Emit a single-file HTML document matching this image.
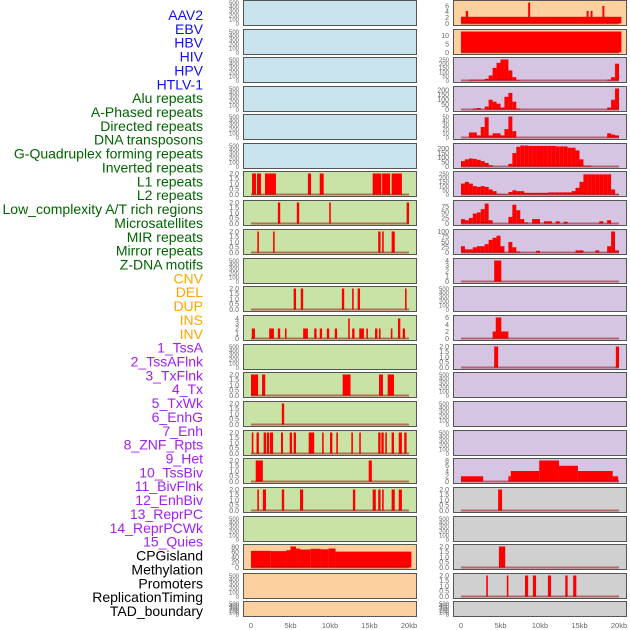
<!DOCTYPE html>
<html><head><meta charset="utf-8"><style>
html,body{margin:0;padding:0;background:#fff;}
svg{display:block;font-family:"Liberation Sans",sans-serif;}
</style></head><body>
<svg id="chart" width="630" height="630" viewBox="0 0 630 630"></svg>
<script>
const labels=["AAV2","EBV","HBV","HIV","HPV","HTLV-1","Alu repeats","A-Phased repeats","Directed repeats","DNA transposons","G-Quadruplex forming repeats","Inverted repeats","L1 repeats","L2 repeats","Low_complexity A/T rich regions","Microsatellites","MIR repeats","Mirror repeats","Z-DNA motifs","CNV","DEL","DUP","INS","INV","1_TssA","2_TssAFlnk","3_TxFlnk","4_Tx","5_TxWk","6_EnhG","7_Enh","8_ZNF_Rpts","9_Het","10_TssBiv","11_BivFlnk","12_EnhBiv","13_ReprPC","14_ReprPCWk","15_Quies","CPGisland","Methylation","Promoters","ReplicationTiming","TAD_boundary"];
const labelColors=["#1010ee","#006400","#ffa500","#a020f0","#000"];
const labelGroupSizes=[6,13,5,15,5];
const rowTops=[0,29,57,86,114,143,171,200,229,258,286,315,344,372,401,430,458,487,516,544,573,601];
const leftColors=["b","b","b","b","b","b","g","g","g","g","g","g","g","g","g","g","g","g","g","o","o","o"];
const rightColors=["o","o","p","p","p","p","p","p","p","p","p","p","p","p","p","p","p","y","y","y","y","y"];
const xTicks=[0,5,10,15,20];
const xTickLabels=["0","5kb","10kb","15kb","20kb"];
// left segments [startKb,endKb,value]
const leftL1=[[0.13,0.63,2],[0.76,1.27,2],[1.77,3.16,2],[7.2,7.6,2],[8.7,9.2,2],[15.4,16.5,2],[16.6,17.6,2],[17.8,19.1,2]];
const leftR7=[[3.4,3.7,2],[5.8,6.1,2],[9.9,10.1,2],[19.7,20,2]];
const leftR8=[[0.8,1.0,2],[2.8,3.0,2],[16.1,16.4,2],[16.6,16.8,2],[17.8,18.2,2]];
const leftR10=[[5.4,5.7,2],[6.3,6.6,2],[11.5,11.8,2],[12.8,13.0,2],[13.5,13.8,2],[19.5,19.7,2]];
const leftR11=[[0.1,0.5,2],[2.3,2.9,2],[3.4,3.7,2],[4.3,4.5,2],[6.6,7.2,2],[8.0,8.3,2],[8.7,9.0,2],[9.6,9.9,2],[10.6,10.9,2],[12.3,12.5,4],[12.8,13.1,2],[13.7,14.3,2],[14.6,14.8,2],[15.7,16.0,2],[16.2,16.4,2],[17.7,17.9,2],[18.6,18.9,4],[19.2,19.5,2]];
const leftR13=[[0,0.9,2],[1.4,1.8,2],[11.6,12.6,2],[16.2,16.7,2],[17.3,18.1,2]];
const leftR14=[[3.9,4.2,2]];
const leftR15=[[0.1,0.3,2],[0.7,1.0,2],[1.6,1.9,2],[2.0,2.3,2],[2.4,2.8,2],[3.8,4.05,2],[4.9,5.2,2],[5.4,5.7,2],[7.3,8.0,2],[9.0,9.2,2],[10.0,10.3,2],[10.8,11.0,2],[12.7,12.9,2],[13.7,13.9,2],[16.1,16.4,2],[16.5,16.8,2],[17.0,17.2,2],[17.8,18.1,2],[18.7,19.1,2],[19.4,19.7,2]];
const leftR16=[[0.6,1.5,2],[14.9,15.3,2]];
const leftR17=[[0.8,1.0,2],[1.5,1.9,2],[3.9,4.2,2],[6.2,6.6,2],[12.9,13.2,2],[15.4,15.8,2],[16.1,16.4,2],[16.6,16.8,2],[17.8,18.2,2],[18.7,19.1,2]];
const leftCPG=[[0,2.5,65],[2.5,4.5,64],[4.5,5,68],[5,5.7,82],[5.7,6.2,74],[6.2,7.5,70],[7.5,8.8,73],[8.8,9.8,71],[9.8,10.7,74],[10.7,20.3,62]];
// right bins (0.5kb each)
const binHIV=[0,0,10,10,10,10,20,60,150,210,250,250,120,40,5,0,0,0,0,0,0,0,0,0,0,0,0,0,0,0,0,0,0,0,0,0,0,10,40,200];
const binHPV=[0,0,0,10,15,0,30,100,80,60,20,130,170,80,10,0,0,0,0,0,0,0,0,0,0,0,0,0,0,0,0,0,0,0,0,0,0,20,100,215];
const binHTLV=[0,0,12,12,5,25,48,5,10,10,5,20,50,15,0,0,0,0,0,0,0,0,0,0,0,0,0,0,0,0,0,0,0,0,0,0,0,10,7,5];
const binGQ=[60,80,90,85,75,60,40,15,0,0,0,0,30,150,220,235,235,230,230,230,230,230,230,230,225,225,225,210,210,180,80,10,10,0,0,0,0,0,0,0];
const binL1=[130,150,130,100,90,100,90,60,40,10,5,5,30,50,40,40,20,20,20,20,20,20,25,25,25,25,25,25,40,80,150,240,240,240,240,240,240,240,60,5];
const binLowC=[20,15,25,45,50,65,90,15,0,0,0,0,30,85,60,20,5,0,20,20,0,10,10,0,10,0,8,0,0,0,0,0,0,0,0,10,0,15,0,0];
const binMIR=[30,15,15,25,30,30,40,60,70,80,30,0,50,25,5,0,0,0,0,8,0,0,0,0,0,0,0,0,0,10,10,0,0,0,10,0,0,30,100,10];
const rightAAV2=[[0,20.3,2.3],[0.6,0.9,4.3],[8.5,8.75,7.2],[15.9,16.15,4.3],[16.4,16.65,4.3],[17.9,18.15,6]];
const rightEBV=[[0,20.3,12.5]];
const rightR9=[[4.2,5.1,4]];
const rightR11=[[4.0,6.0,2],[4.4,5.1,6]];
const rightR12=[[4.2,4.7,2],[19.6,20,2]];
const rightR16=[[0,2.8,2],[6.0,6.3,2],[6.3,9.9,4],[9.9,12.4,8],[12.4,14.8,6],[14.8,19.2,4],[19.2,19.9,2]];
const rightR17=[[4.7,5.2,2]];
const rightR19=[[4.8,5.6,2]];
const rightR20=[[3.2,3.4,2],[5.8,6.0,2],[8.1,8.5,2],[9.1,9.5,2],[11.0,11.4,2],[13.2,13.5,2],[14.2,14.6,2]];

const fills={b:"#c8e3ec",g:"#c9e2a6",o:"#fdd09f",p:"#d5c5e3",y:"#d0d0d0"};
const E={ticks:[0,100,200,300,400,500],ymax:500};
const B={ticks:[0,0.5,1,1.5,2],ymax:2,fmt:1};
function segP(s,t,y){return {segs:s,ticks:t,ymax:y};}
function binP(b,t,y){return {bins:b,ticks:t,ymax:y};}
const leftPanels=[E,E,E,E,E,E,Object.assign({segs:leftL1},B),Object.assign({segs:leftR7},B),Object.assign({segs:leftR8},B),E,Object.assign({segs:leftR10},B),segP(leftR11,[0,1,2,3,4],4.2),E,Object.assign({segs:leftR13},B),Object.assign({segs:leftR14},B),Object.assign({segs:leftR15},B),Object.assign({segs:leftR16},B),Object.assign({segs:leftR17},B),E,segP(leftCPG,[0,20,40,60,80],82),E,E];
const rightPanels=[segP(rightAAV2,[0,2,4,6],7.2),segP(rightEBV,[0,5,10],12.5),binP(binHIV,[0,50,100,150,200,250],250),binP(binHPV,[0,50,100,150,200],215),binP(binHTLV,[0,10,20,30,40,50],50),binP(binGQ,[0,50,100,150,200],235),binP(binL1,[0,50,100,150,200,250],250),binP(binLowC,[0,25,50,75],95),binP(binMIR,[0,25,50,75,100],100),segP(rightR9,[0,1,2,3,4],4),E,segP(rightR11,[0,2,4,6],6),Object.assign({segs:rightR12},B),E,E,E,segP(rightR16,[0,2,4,6,8],8),Object.assign({segs:rightR17},B),E,Object.assign({segs:rightR19},B),Object.assign({segs:rightR20},B),E];

const NS="http://www.w3.org/2000/svg";
const svg=document.getElementById("chart");
function mk(tag,attrs,parent){const e=document.createElementNS(NS,tag);for(const k in attrs)e.setAttribute(k,attrs[k]);(parent||svg).appendChild(e);return e;}

let li=0;
labelGroupSizes.forEach((n,g)=>{for(let k=0;k<n;k++){const t=mk("text",{x:203,y:15+li*13.86+5,"text-anchor":"end","font-size":"14",fill:labelColors[g]});t.textContent=labels[li];


li++;}});

function drawCol(panels,colors,px,x0,side){
  const xs=kb=>x0+kb*7.9;
  panels.forEach((p,i)=>{
    const top=rowTops[i]+0.5, h=(i===21?15:25);
    const bot=top+h;
    const ys=v=>bot-2-Math.min(v,p.ymax)/p.ymax*(h-4);
    const g=mk("g",{});
    
    
    mk("rect",{x:px+0.5,y:top,width:173,height:h,fill:fills[colors[i]],stroke:"#555","stroke-width":1},g);
    const hasData=p.segs||p.bins;
    if(p.bins){p.bins.forEach((v,k)=>{if(v>0){const r=mk("rect",{x:xs(k*0.5),y:ys(v),width:xs(0.5)-xs(0),height:ys(0)-ys(v),fill:"#ff0000"},g);
      
      }});}
    if(p.segs){p.segs.forEach(s=>{const r=mk("rect",{x:xs(s[0]),y:ys(s[2]),width:Math.max(1.5,xs(s[1])-xs(s[0])),height:ys(0)-ys(s[2]),fill:"#ff0000"},g);
      
      });}
    if(hasData) mk("line",{x1:xs(0),x2:xs(20),y1:ys(0),y2:ys(0),stroke:"rgba(150,0,0,0.5)","stroke-width":2},g);
    const tick=p.ticks.length>5?6:7;
    p.ticks.forEach(v=>{const t=mk("text",{x:px-4,y:ys(v)+2.3,"text-anchor":"end","font-size":tick,fill:"#666"},g);t.textContent=p.fmt?v.toFixed(1):String(v);});
  });
  xTicks.forEach((v,k)=>{const t=mk("text",{x:xs(v),y:628,"text-anchor":"middle","font-size":"7.5",fill:"#666"});t.textContent=xTickLabels[k];
    
    });
}
drawCol(leftPanels,leftColors,243,251,"left");
drawCol(rightPanels,rightColors,453,461,"right");
</script>
</body></html>
